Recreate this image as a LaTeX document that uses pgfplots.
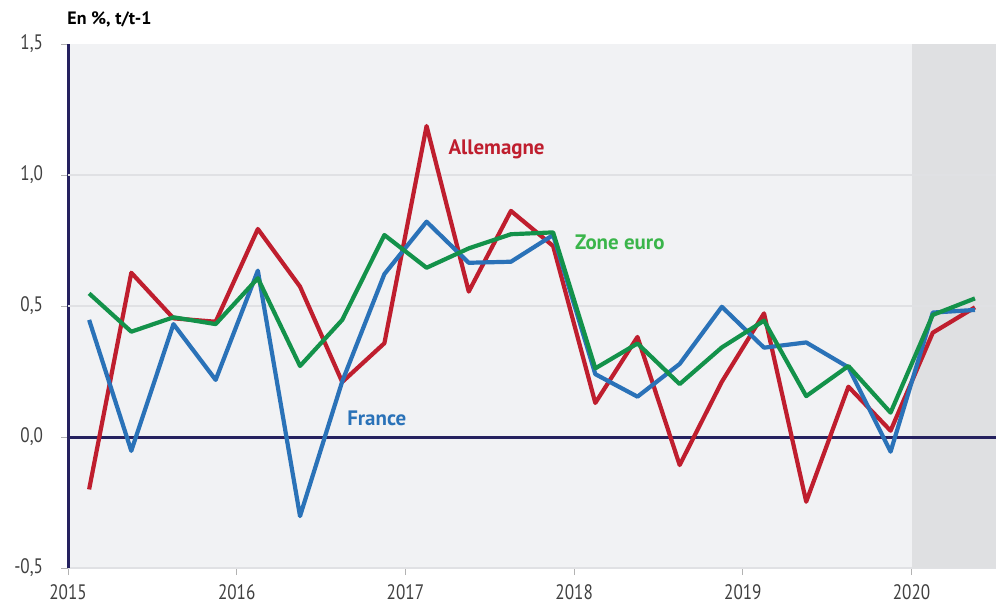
\documentclass[border=0pt]{standalone}
\usepackage{pgfplots}
\pgfplotsset{compat=1.18}
\usepackage{fontspec}
\setmainfont{PT Sans}
\newfontfamily\narrowfont[FakeStretch=0.82]{PT Sans}
\definecolor{rouge}{HTML}{BF1E2E}
\definecolor{bleu}{HTML}{2A72B8}
\definecolor{vert}{HTML}{13924A}
\definecolor{vertclair}{HTML}{3AB54A}
\definecolor{marine}{HTML}{25215F}
\definecolor{fond}{HTML}{F1F2F4}
\definecolor{ombre}{HTML}{DFE0E2}
\definecolor{grille}{HTML}{E0E1E4}
\definecolor{texte}{HTML}{404040}

\begin{document}
\begin{tikzpicture}
\begin{axis}[
    scale only axis, width=464bp, height=262bp,
    xmin=2015, xmax=2020.5, ymin=-0.5, ymax=1.5,
    axis x line*=bottom, axis y line*=left,
    x axis line style={draw=grille, line width=0.6pt, -},
    y axis line style={draw=marine, line width=1.5pt, -},
    axis background/.style={fill=fond},
    xtick={2015,...,2020}, ytick={-0.5,0,0.5,1,1.5},
    xticklabel style={font=\narrowfont\fontsize{10.5}{12}\selectfont, color=texte, yshift=-1.5bp,
        /pgf/number format/1000 sep={}},
    yticklabel style={font=\narrowfont\fontsize{10.5}{12}\selectfont, color=texte, xshift=-5.5bp,
        /pgf/number format/.cd, use comma, fixed, fixed zerofill, precision=1},
    /pgf/number format/assume math mode=true,
    tick align=outside, major tick length=3.5bp,
    tick style={draw=gray!60, line width=0.5pt},
    clip=false,
]
% zone ombrée 2020
\fill[ombre] (axis cs:2020,-0.5) rectangle (axis cs:2020.5,1.5);
\draw[grille, line width=0.6pt] (axis cs:2015,0.5) -- (axis cs:2020.5,0.5);
\draw[grille, line width=0.6pt] (axis cs:2015,1) -- (axis cs:2020.5,1);
\draw[marine, line width=1.5pt] (axis cs:2015,0) -- (axis cs:2020.5,0);

% Allemagne
\addplot[rouge, line width=2.1bp, line join=round, mark=none] coordinates {
(2015.125,-0.20) (2015.375,0.627) (2015.625,0.453) (2015.875,0.44)
(2016.125,0.794) (2016.375,0.574) (2016.625,0.210) (2016.875,0.358)
(2017.125,1.187) (2017.375,0.555) (2017.625,0.863) (2017.875,0.729)
(2018.125,0.130) (2018.375,0.382) (2018.625,-0.107) (2018.875,0.211)
(2019.125,0.472) (2019.375,-0.247) (2019.625,0.192) (2019.875,0.024)
(2020.125,0.398) (2020.375,0.495)};
% France
\addplot[bleu, line width=2.1bp, line join=round, mark=none] coordinates {
(2015.125,0.447) (2015.375,-0.053) (2015.625,0.431) (2015.875,0.218)
(2016.125,0.635) (2016.375,-0.302) (2016.625,0.212) (2016.875,0.622)
(2017.125,0.822) (2017.375,0.665) (2017.625,0.669) (2017.875,0.771)
(2018.125,0.240) (2018.375,0.154) (2018.625,0.279) (2018.875,0.497)
(2019.125,0.341) (2019.375,0.361) (2019.625,0.266) (2019.875,-0.056)
(2020.125,0.475) (2020.375,0.485)};
% Zone euro
\addplot[vert, line width=2.1bp, line join=round, mark=none] coordinates {
(2015.125,0.548) (2015.375,0.402) (2015.625,0.457) (2015.875,0.431)
(2016.125,0.606) (2016.375,0.271) (2016.625,0.447) (2016.875,0.771)
(2017.125,0.646) (2017.375,0.720) (2017.625,0.774) (2017.875,0.781)
(2018.125,0.262) (2018.375,0.357) (2018.625,0.202) (2018.875,0.342)
(2019.125,0.444) (2019.375,0.156) (2019.625,0.271) (2019.875,0.093)
(2020.125,0.466) (2020.375,0.529)};

\node[font=\bfseries\fontsize{10.5}{12}\selectfont, color=rouge] at (axis cs:2017.54,1.097) {Allemagne};
\node[font=\bfseries\fontsize{10.5}{12}\selectfont, color=vertclair] at (axis cs:2018.27,0.743) {Zone euro};
\node[font=\bfseries\fontsize{10.5}{12}\selectfont, color=bleu] at (axis cs:2016.83,0.073) {France};
\node[anchor=west, inner sep=0pt, font=\bfseries\fontsize{9}{11}\selectfont, color=black]
    at (axis description cs:-0.001,1.047) {En \%, t/t-1};
\path (axis description cs:-0.0733,-0.0706) rectangle (axis description cs:1.0032,1.084);
\end{axis}
\end{tikzpicture}
\end{document}
